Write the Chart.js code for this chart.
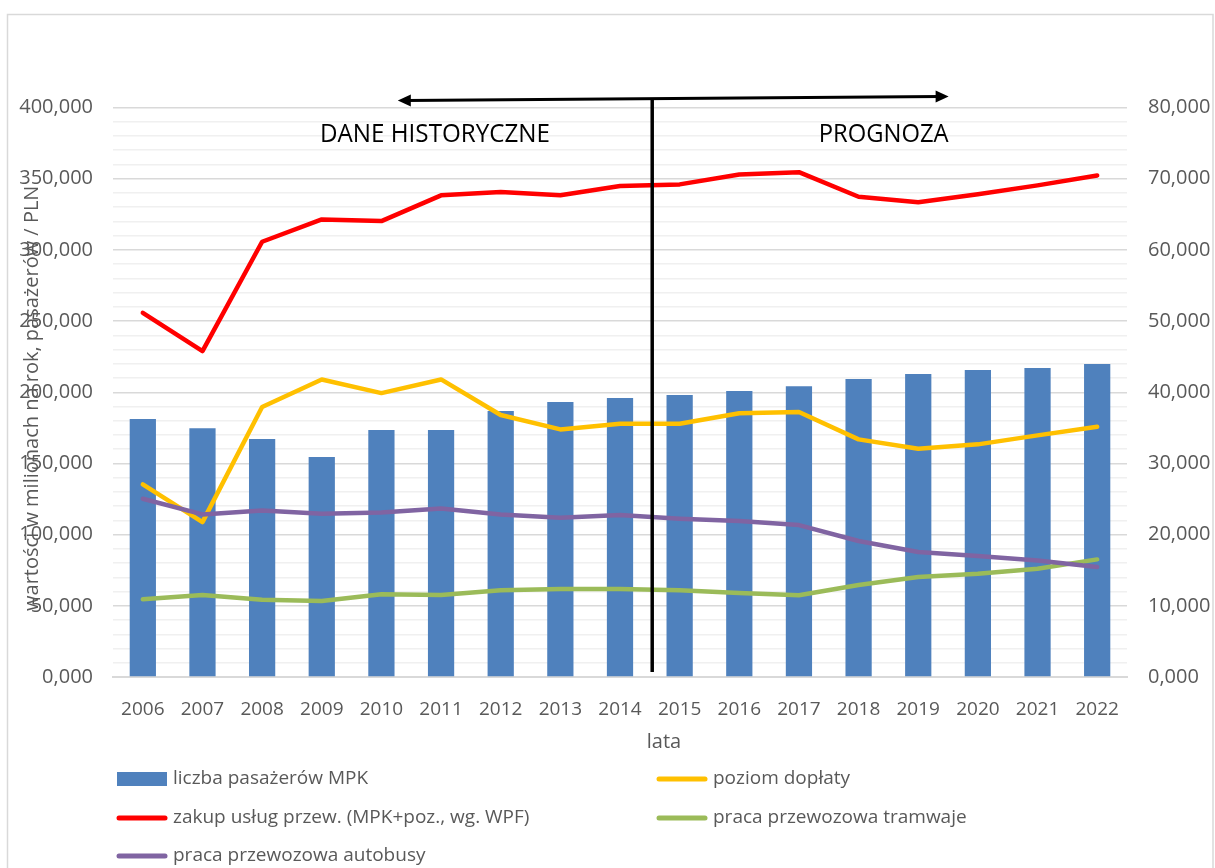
<!DOCTYPE html>
<html><head><meta charset="utf-8">
<script src="https://cdn.jsdelivr.net/npm/chart.js@4.4.1/dist/chart.umd.min.js"></script>
<style>html,body{margin:0;padding:0;background:#fff;}#wrap{width:1215px;height:868px;position:relative;}</style>
</head><body><div id="wrap"><canvas id="c" width="1215" height="868"></canvas></div>
<script>
// ---- data ----
const years = ['2006','2007','2008','2009','2010','2011','2012','2013','2014','2015','2016','2017','2018','2019','2020','2021','2022'];
const passengers = [181.2,174.8,167.1,154.5,173.4,173.4,186.8,193.1,195.9,198.0,200.8,204.3,209.3,212.8,215.6,217.0,219.8];
const subsidy    = [135.3,108.8,189.6,209.0,199.4,209.0,184.0,173.9,177.9,177.9,185.2,186.1,166.9,160.3,163.4,169.7,175.8];
const purchase   = [255.8,228.9,305.7,321.4,320.2,338.3,340.6,338.3,344.8,346.0,353.0,354.6,337.3,333.5,339.0,345.3,352.3];
const tramWork   = [10.92,11.52,10.86,10.68,11.62,11.52,12.18,12.36,12.36,12.18,11.80,11.48,12.92,14.04,14.50,15.20,16.52];
const busWork    = [25.04,22.84,23.40,22.94,23.12,23.68,22.84,22.38,22.76,22.24,21.90,21.34,19.10,17.56,17.00,16.38,15.44];
const leftTickLabels  = ['0,000','50,000','100,000','150,000','200,000','250,000','300,000','350,000','400,000'];
const rightTickLabels = ['0,000','10,000','20,000','30,000','40,000','50,000','60,000','70,000','80,000'];
const seriesNames = ['liczba pasażerów MPK','poziom dopłaty','zakup usług przew. (MPK+poz., wg. WPF)','praca przewozowa tramwaje','praca przewozowa autobusy'];
const yTitle = 'wartości w milionach na rok, pasażerów / PLN';
const xTitle = 'lata';
const histLabel = 'DANE HISTORYCZNE';
const progLabel = 'PROGNOZA';

const FONT = '"Open Sans", "Noto Sans", sans-serif';
const GREY = '#595959';

const deco = {
  id: 'deco',
  beforeDraw(chart) {
    const ctx = chart.ctx;
    ctx.save();
    ctx.fillStyle = '#fff';
    ctx.fillRect(0, 0, chart.width, chart.height);
    ctx.strokeStyle = '#d9d9d9';
    ctx.lineWidth = 1.5;
    ctx.strokeRect(7.5, 14.5, 1205.5, 900);
    ctx.restore();
  },
  afterDatasetsDraw(chart) {
    const {ctx, chartArea: a} = chart;
    const step = (a.right - a.left) / years.length;
    const px = i => a.left + (i + 0.5) * step;
    ctx.save();
    ctx.strokeStyle = '#000'; ctx.fillStyle = '#000';
    ctx.lineWidth = 3;
    const xl = px(4.275), xr = px(13.51), xv = px(8.54);
    const yl = a.top - 7, yr = a.top - 11, yv = a.top - 9;
    ctx.beginPath(); ctx.moveTo(xl + 8, yl); ctx.lineTo(xr - 8, yr); ctx.stroke();
    ctx.beginPath(); ctx.moveTo(xl, yl); ctx.lineTo(xl + 13, yl - 6); ctx.lineTo(xl + 13, yl + 6); ctx.closePath(); ctx.fill();
    ctx.beginPath(); ctx.moveTo(xr, yr); ctx.lineTo(xr - 13, yr - 6); ctx.lineTo(xr - 13, yr + 6); ctx.closePath(); ctx.fill();
    ctx.lineWidth = 3.5;
    ctx.beginPath(); ctx.moveTo(xv, yv); ctx.lineTo(xv, a.bottom - 5); ctx.stroke();
    ctx.font = '25px ' + FONT;
    ctx.textBaseline = 'middle';
    ctx.textAlign = 'left';
    ctx.fillText(histLabel, px(2.97), a.top + 27, 230);
    ctx.textAlign = 'right';
    ctx.fillText(progLabel, xr, a.top + 27, 130);
    ctx.restore();
  },
  afterDraw(chart) {
    const {ctx, chartArea: a} = chart;
    ctx.save();
    ctx.fillStyle = GREY;
    ctx.font = '20px ' + FONT;
    ctx.textAlign = 'center'; ctx.textBaseline = 'middle';
    ctx.translate(32, (a.top + a.bottom) / 2 + 6);
    ctx.rotate(-Math.PI / 2);
    ctx.fillText(yTitle, 0, 0, 455);
    ctx.restore();
    ctx.save();
    ctx.fillStyle = GREY;
    ctx.font = '20px ' + FONT;
    ctx.textAlign = 'center'; ctx.textBaseline = 'middle';
    ctx.fillText(xTitle, (a.left + a.right) / 2 + 44, a.bottom + 65);
    const cols = [117, 657], rows = [a.bottom + 102, a.bottom + 141, a.bottom + 179];
    ctx.font = '19px ' + FONT;
    ctx.textAlign = 'left';
    chart.data.datasets.forEach((ds, i) => {
      const x = cols[i % 2], y = rows[Math.floor(i / 2)];
      if (ds.type === 'bar') {
        ctx.fillStyle = ds.backgroundColor;
        ctx.fillRect(x, y - 7, 50, 14);
      } else {
        ctx.strokeStyle = ds.borderColor; ctx.lineWidth = 5; ctx.lineCap = 'round';
        ctx.beginPath(); ctx.moveTo(x + 2, y); ctx.lineTo(x + 48, y); ctx.stroke();
      }
      ctx.fillStyle = GREY;
      ctx.fillText(ds.label, x + 56, y);
    });
    ctx.restore();
  }
};

const lineDs = (label, data, color, axis, order) => ({
  type: 'line', label, data, yAxisID: axis, order,
  borderColor: color, backgroundColor: color, borderWidth: 4.5,
  pointRadius: 0, tension: 0, fill: false,
  borderJoinStyle: 'round', borderCapStyle: 'round'
});

new Chart(document.getElementById('c'), {
  data: {
    labels: years,
    datasets: [
      { type: 'bar', label: seriesNames[0], data: passengers, yAxisID: 'y', order: 10,
        backgroundColor: '#4f81bd', barPercentage: 0.44, categoryPercentage: 1.0 },
      lineDs(seriesNames[1], subsidy, '#ffc000', 'y', 4),
      lineDs(seriesNames[2], purchase, '#ff0000', 'y', 1),
      lineDs(seriesNames[3], tramWork, '#9bbb59', 'y1', 3),
      lineDs(seriesNames[4], busWork, '#8064a2', 'y1', 2)
    ]
  },
  options: {
    responsive: false, animation: false, devicePixelRatio: 1,
    layout: { padding: { top: 107.5, left: 0, right: 0, bottom: 0 } },
    plugins: { legend: { display: false }, tooltip: { enabled: false } },
    scales: {
      x: {
        grid: { display: false, drawTicks: false },
        border: { color: '#d9d9d9', width: 2 },
        ticks: { font: { family: FONT, size: 19 }, color: GREY, padding: 21, autoSkip: false, maxRotation: 0 },
        afterFit(s) { s.height = 191; }
      },
      y: {
        position: 'left', min: 0, max: 400,
        ticks: { stepSize: 10, autoSkip: false, padding: 20, color: GREY, font: { family: FONT, size: 20 },
          callback: v => (v % 50 === 0 ? leftTickLabels[v / 50] : '') },
        grid: { color: c => (c.tick && c.tick.value % 50 === 0 ? '#d9d9d9' : '#f0f0f0'), lineWidth: 1.5, drawTicks: false },
        border: { display: false },
        afterFit(s) { s.width = 113; }
      },
      y1: {
        position: 'right', min: 0, max: 80,
        ticks: { stepSize: 10, autoSkip: false, padding: 21, color: GREY, font: { family: FONT, size: 20 },
          callback: v => rightTickLabels[Math.round(v / 10)] },
        grid: { display: false, drawTicks: false },
        border: { display: false },
        afterFit(s) { s.width = 88; }
      }
    }
  },
  plugins: [deco]
});
</script>
</body></html>
